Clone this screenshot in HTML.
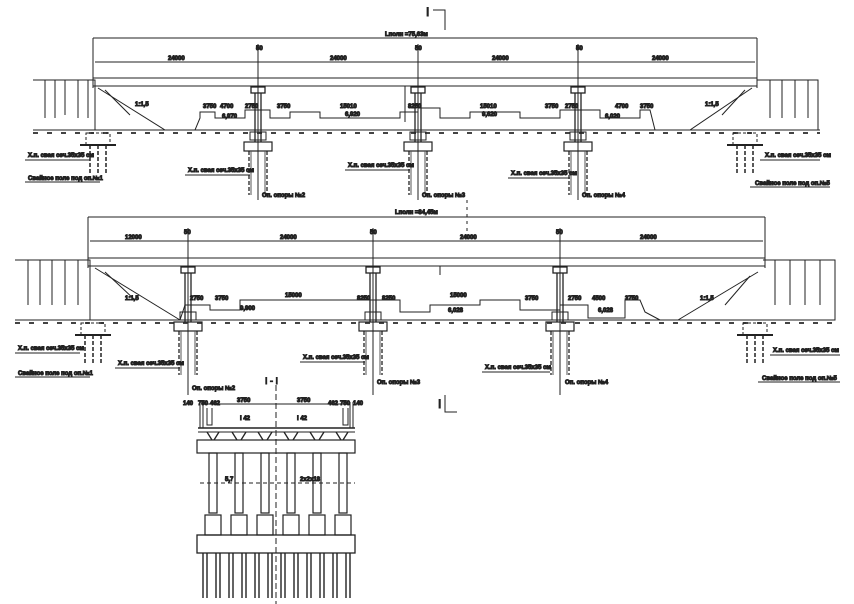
<!DOCTYPE html>
<html><head><meta charset="utf-8"><style>
html,body{margin:0;padding:0;background:#fff;}
svg{display:block;}
text{font-family:"Liberation Sans",sans-serif;font-size:6px;fill:#222;font-weight:bold;}
</style></head><body>
<svg width="854" height="604" viewBox="0 0 854 604" xmlns="http://www.w3.org/2000/svg" stroke="#222" fill="none" stroke-width="1">
<defs>
<g id="pier">
  <rect x="-7" y="0" width="14" height="6" stroke-width="1.3"/>
  <line x1="-3" y1="6" x2="-3" y2="55" stroke-width="1.3"/>
  <line x1="3" y1="6" x2="3" y2="55" stroke-width="1.3"/>
  <line x1="0" y1="6" x2="0" y2="55" stroke-dasharray="2,2"/>
  <rect x="-8" y="45" width="16" height="8"/>
  <rect x="-14" y="55" width="28" height="9" stroke-width="1.2"/>
  <line x1="-9" y1="64" x2="-9" y2="108" stroke-width="1.3" stroke-dasharray="4,2"/>
  <line x1="9" y1="64" x2="9" y2="108" stroke-width="1.3" stroke-dasharray="4,2"/>
  <line x1="-7" y1="64" x2="-7" y2="108" stroke="#555"/>
  <line x1="7" y1="64" x2="7" y2="108" stroke="#555"/>
</g>
<g id="abpile">
  <rect x="-12" y="0" width="24" height="12" stroke-dasharray="3,2"/>
  <line x1="-18" y1="12" x2="18" y2="12" stroke-width="2"/>
  <line x1="-8" y1="12" x2="-8" y2="40" stroke-width="1.5" stroke-dasharray="4,2"/>
  <line x1="0" y1="12" x2="0" y2="40" stroke-width="1.5" stroke-dasharray="4,2"/>
  <line x1="8" y1="12" x2="8" y2="40" stroke-width="1.5" stroke-dasharray="4,2"/>
</g>
</defs>

<text x="426" y="16" style="font-size:12px;font-weight:normal">I</text>
<polyline points="433,10 445,10 445,30"/>
<polyline points="445,395 445,412 457,412"/>
<text x="438" y="408" style="font-size:12px;font-weight:normal">I</text>
<line x1="467" y1="200" x2="467" y2="235" stroke-dasharray="3,4"/>

<!-- TOP BRIDGE -->
<line x1="93" y1="38" x2="757" y2="38"/>
<line x1="93" y1="38" x2="93" y2="88"/>
<line x1="757" y1="38" x2="757" y2="88"/>
<text x="385" y="36">Lполн =75,63м</text>
<line x1="95" y1="62" x2="755" y2="62"/>
<text x="168" y="60">24000</text><text x="330" y="60">24000</text><text x="492" y="60">24000</text><text x="652" y="60">24000</text>
<text x="256" y="50">50</text><text x="415" y="50">50</text><text x="576" y="50">50</text>
<line x1="258" y1="44" x2="258" y2="200"/><line x1="418" y1="44" x2="418" y2="200"/><line x1="578" y1="44" x2="578" y2="200"/>
<line x1="93" y1="78" x2="757" y2="78" stroke-width="1.1"/>
<line x1="93" y1="86" x2="757" y2="86" stroke-width="1.1"/>
<line x1="405" y1="86" x2="405" y2="122"/>
<polyline points="33,80 95,80 95,130 33,130"/>
<line x1="45" y1="80" x2="45" y2="118"/><line x1="55" y1="80" x2="55" y2="118"/><line x1="65" y1="80" x2="65" y2="115"/><line x1="78" y1="80" x2="78" y2="118"/><line x1="88" y1="80" x2="88" y2="118"/>
<polyline points="757,80 818,80 818,130 757,130"/>
<line x1="770" y1="80" x2="770" y2="118"/><line x1="782" y1="80" x2="782" y2="118"/><line x1="795" y1="80" x2="795" y2="118"/><line x1="808" y1="80" x2="808" y2="118"/>
<line x1="98" y1="88" x2="165" y2="130"/><line x1="105" y1="90" x2="130" y2="115"/>
<line x1="752" y1="88" x2="690" y2="130"/><line x1="745" y1="90" x2="722" y2="115"/>
<text x="135" y="106">1:1,5</text><text x="705" y="106">1:1,5</text>
<line x1="33" y1="130" x2="820" y2="130"/>
<line x1="33" y1="133" x2="820" y2="133" stroke-width="2" stroke-dasharray="5,9" stroke="#444"/>
<polyline points="195,130 200,118 200,112 215,112 215,118 245,118 245,110 258,110"/>
<polyline points="258,110 270,110 270,118 290,118 290,112 320,112 320,118 400,118 400,112 418,112"/>
<polyline points="418,108 440,108 440,118 470,118 470,112 520,112 520,118 560,118 560,110 578,110"/>
<polyline points="578,110 600,110 600,118 640,118 640,110 650,110 655,130"/>
<text x="203" y="108">3750</text><text x="220" y="108">4700</text><text x="245" y="108">2750</text><text x="277" y="108">3750</text><text x="340" y="108">15010</text><text x="408" y="108">8250</text><text x="480" y="108">15010</text><text x="545" y="108">3750</text><text x="565" y="108">2750</text><text x="615" y="108">4700</text><text x="640" y="108">3750</text>
<text x="222" y="118">6,970</text><text x="345" y="116">6,920</text><text x="482" y="116">9,620</text><text x="605" y="118">6,020</text>
<use href="#pier" x="258" y="87"/><use href="#pier" x="418" y="87"/><use href="#pier" x="578" y="87"/>
<use href="#abpile" x="98" y="133"/><use href="#abpile" x="745" y="133"/>
<line x1="25" y1="160" x2="90" y2="160"/><text x="28" y="157">Х.п. свая сеч.35х35 см</text>
<line x1="25" y1="182" x2="100" y2="182"/><text x="28" y="180">Свайное поле под оп.№1</text>
<line x1="185" y1="175" x2="250" y2="175"/><text x="188" y="172">Х.п. свая сеч.35х35 см</text>
<line x1="345" y1="170" x2="410" y2="170"/><text x="348" y="167">Х.п. свая сеч.35х35 см</text>
<line x1="508" y1="178" x2="570" y2="178"/><text x="511" y="175">Х.п. свая сеч.35х35 см</text>
<text x="262" y="197">Оп. опоры №2</text><text x="422" y="197">Оп. опоры №3</text><text x="582" y="197">Оп. опоры №4</text>
<line x1="760" y1="160" x2="820" y2="160"/><text x="765" y="157">Х.п. свая сеч.35х35 см</text>
<line x1="750" y1="187" x2="830" y2="187"/><text x="755" y="185">Свайное поле под оп.№5</text>

<!-- SECOND BRIDGE -->
<line x1="88" y1="217" x2="765" y2="217"/>
<line x1="88" y1="217" x2="88" y2="268"/>
<line x1="765" y1="217" x2="765" y2="268"/>
<text x="395" y="214">Lполн =84,45м</text>
<line x1="90" y1="241" x2="763" y2="241"/>
<text x="125" y="239">12000</text><text x="280" y="239">24000</text><text x="460" y="239">24000</text><text x="640" y="239">24000</text>
<text x="184" y="234">50</text><text x="370" y="234">50</text><text x="556" y="234">50</text>
<line x1="188" y1="228" x2="188" y2="395"/><line x1="373" y1="228" x2="373" y2="395"/><line x1="560" y1="228" x2="560" y2="395"/>
<line x1="88" y1="258" x2="765" y2="258" stroke-width="1.1"/>
<line x1="88" y1="266" x2="765" y2="266" stroke-width="1.1"/>
<line x1="440" y1="266" x2="440" y2="275"/>
<polyline points="15,260 90,260 90,320 15,320"/>
<line x1="28" y1="260" x2="28" y2="305"/><line x1="40" y1="260" x2="40" y2="305"/><line x1="52" y1="260" x2="52" y2="305"/><line x1="65" y1="260" x2="65" y2="305"/><line x1="78" y1="260" x2="78" y2="305"/>
<polyline points="763,260 835,260 835,320 763,320"/>
<line x1="775" y1="260" x2="775" y2="305"/><line x1="790" y1="260" x2="790" y2="305"/><line x1="805" y1="260" x2="805" y2="305"/><line x1="820" y1="260" x2="820" y2="305"/>
<line x1="95" y1="268" x2="180" y2="320"/><line x1="105" y1="272" x2="135" y2="300"/>
<line x1="758" y1="272" x2="678" y2="320"/><line x1="750" y1="276" x2="725" y2="305"/>
<text x="125" y="300">1:1,5</text><text x="700" y="300">1:1,5</text>
<line x1="15" y1="320" x2="835" y2="320"/>
<line x1="15" y1="323" x2="835" y2="323" stroke-width="2" stroke-dasharray="5,9" stroke="#444"/>
<polyline points="180,320 185,305 210,305 210,310 240,310 240,300 373,300"/>
<polyline points="373,300 400,300 400,312 430,312 430,305 480,305 480,300 520,300 520,310 560,310"/>
<polyline points="560,305 588,305 588,318 625,318 625,300 640,300 645,312 660,320"/>
<text x="190" y="300">2750</text><text x="215" y="300">3750</text><text x="285" y="297">15000</text><text x="357" y="300">8250</text><text x="382" y="300">8250</text><text x="450" y="297">15000</text><text x="525" y="300">3750</text><text x="568" y="300">2750</text><text x="592" y="300">4500</text><text x="625" y="300">3750</text>
<text x="240" y="310">9,900</text><text x="448" y="312">6,028</text><text x="598" y="312">6,028</text>
<use href="#pier" x="188" y="267"/><use href="#pier" x="373" y="267"/><use href="#pier" x="560" y="267"/>
<use href="#abpile" x="93" y="323"/><use href="#abpile" x="755" y="323"/>
<line x1="15" y1="353" x2="80" y2="353"/><text x="18" y="350">Х.п. свая сеч.35х35 см</text>
<line x1="15" y1="377" x2="90" y2="377"/><text x="18" y="375">Свайное поле под оп.№1</text>
<line x1="115" y1="368" x2="180" y2="368"/><text x="118" y="365">Х.п. свая сеч.35х35 см</text>
<line x1="300" y1="362" x2="365" y2="362"/><text x="303" y="359">Х.п. свая сеч.35х35 см</text>
<line x1="482" y1="372" x2="550" y2="372"/><text x="485" y="369">Х.п. свая сеч.35х35 см</text>
<text x="192" y="390">Оп. опоры №2</text><text x="377" y="384">Оп. опоры №3</text><text x="565" y="384">Оп. опоры №4</text>
<line x1="770" y1="355" x2="840" y2="355"/><text x="773" y="352">Х.п. свая сеч.35х35 см</text>
<line x1="758" y1="382" x2="840" y2="382"/><text x="762" y="380">Свайное поле под оп.№5</text>

<!-- CROSS SECTION I-I -->
<text x="265" y="384" style="font-size:9px;font-weight:normal">I - I</text>
<line x1="276" y1="385" x2="276" y2="604" stroke-dasharray="6,3"/>
<text x="183" y="405">140</text><text x="198" y="405">750</text><text x="210" y="405">462</text><text x="237" y="402">3750</text><text x="297" y="402">3750</text><text x="328" y="405">462</text><text x="340" y="405">750</text><text x="353" y="405">140</text>
<line x1="205" y1="404" x2="350" y2="404"/>
<line x1="200" y1="402" x2="200" y2="428"/><line x1="203" y1="402" x2="203" y2="428"/>
<line x1="350" y1="402" x2="350" y2="428"/><line x1="353" y1="402" x2="353" y2="428"/>
<polyline points="207,408 207,425 212,425 212,408"/><polyline points="343,408 343,425 348,425 348,408"/>
<text x="240" y="420">i 42</text><text x="297" y="420">i 42</text>
<line x1="198" y1="428" x2="355" y2="428" stroke-width="1.5"/>
<line x1="198" y1="432" x2="355" y2="432"/>
<rect x="197" y="440" width="158" height="13" stroke-width="1.2"/>
<g stroke-width="1.3">
<path d="M207,432 l5,8 M219,432 l-5,8 M232,432 l5,8 M246,432 l-5,8 M258,432 l5,8 M272,432 l-5,8 M284,432 l5,8 M298,432 l-5,8 M310,432 l5,8 M324,432 l-5,8 M336,432 l5,8 M348,432 l-5,8"/>
</g>
<g stroke-width="1.2">
<rect x="209" y="453" width="8" height="60"/><rect x="235" y="453" width="8" height="60"/><rect x="261" y="453" width="8" height="60"/>
<rect x="287" y="453" width="8" height="60"/><rect x="313" y="453" width="8" height="60"/><rect x="339" y="453" width="8" height="60"/>
<rect x="205" y="515" width="16" height="20"/><rect x="231" y="515" width="16" height="20"/><rect x="257" y="515" width="16" height="20"/>
<rect x="283" y="515" width="16" height="20"/><rect x="309" y="515" width="16" height="20"/><rect x="335" y="515" width="16" height="20"/>
</g>
<line x1="200" y1="483" x2="355" y2="483" stroke-dasharray="4,3"/>
<text x="225" y="481">5,7</text><text x="300" y="481">2х2х18</text>
<rect x="197" y="535" width="158" height="18" stroke-width="1.3"/>
<g stroke-width="1.4">
<path d="M203,553 v45 M207,553 v45 M216,553 v45 M220,553 v45 M229,553 v45 M233,553 v45 M242,553 v45 M246,553 v45 M255,553 v45 M259,553 v45 M268,553 v45 M272,553 v45 M281,553 v45 M285,553 v45 M294,553 v45 M298,553 v45 M307,553 v45 M311,553 v45 M320,553 v45 M324,553 v45 M333,553 v45 M337,553 v45 M346,553 v45 M350,553 v45"/>
</g>
</svg>
</body></html>
